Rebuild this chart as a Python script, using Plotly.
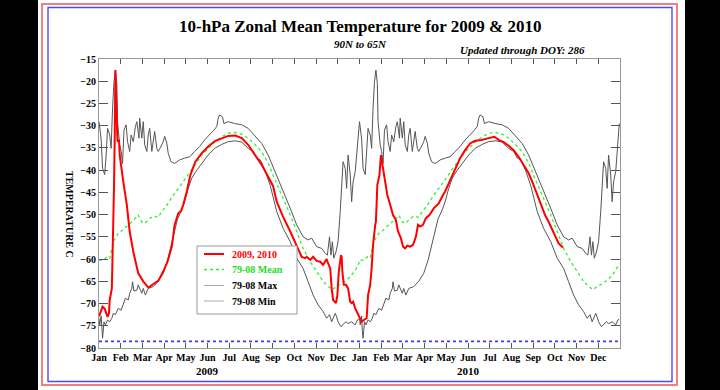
import plotly.graph_objects as go

# ---------------- data ----------------
# 2009-2010 daily series: day index from 1 Jan 2009
RED_DAY = [0, 5, 8, 12, 14, 15, 18, 20, 21, 22, 23, 25, 26, 28, 29, 34, 39, 43, 48, 55,
           62, 69, 76, 83, 90, 96, 102, 106, 111, 115, 118, 123, 128, 135, 144, 153, 163, 172, 181, 191,
           200, 209, 219, 228, 237, 244, 249, 258, 268, 277, 284, 289, 291, 296, 300, 305, 310, 314, 319, 321,
           324, 326, 328, 332, 334, 336, 339, 340, 341, 343, 346, 349, 352, 354, 356, 359, 362, 365, 368, 371,
           375, 377, 380, 382, 384, 387, 388, 390, 393, 395, 398, 401, 404, 408, 412, 416, 419, 423, 426, 429,
           432, 436, 440, 444, 447, 450, 454, 458, 463, 469, 476, 482, 485, 490, 494, 499, 506, 513, 520, 527,
           536, 546, 554, 560, 567, 574, 581, 588, 595, 602, 607, 613, 620, 625, 630, 634, 639, 644, 650]
RED_T = [-72.9, -70.7, -71.2, -73.0, -72.2, -69.2, -66.6, -55.3, -44.0, -32.8, -17.5, -29.1, -33.6, -33.2, -36.6, -42.6, -47.8, -53.8, -58.3, -63.2,
         -65.0, -66.4, -65.6, -64.9, -62.8, -60.6, -57.2, -52.3, -49.7, -49.2, -47.8, -44.8, -41.1, -38.1, -36.2, -34.7, -33.4, -32.8, -32.3, -32.2,
         -32.8, -34.3, -36.6, -38.8, -41.5, -43.6, -47.1, -50.5, -53.8, -57.2, -59.5, -59.8, -59.5, -60.2, -59.5, -60.4, -60.6, -61.3, -60.0, -61.0,
         -62.1, -66.6, -69.2, -69.9, -68.1, -62.8, -59.1, -59.5, -62.8, -65.8, -65.8, -66.6, -69.6, -69.9, -69.6, -71.1, -72.2, -73.3, -74.1, -73.7,
         -73.3, -68.1, -65.8, -62.1, -56.8, -52.3, -51.6, -43.3, -41.1, -36.6, -39.6, -42.6, -45.6, -47.8, -50.1, -51.2, -53.8, -55.3, -57.2, -57.6,
         -57.0, -57.2, -56.8, -55.0, -52.3, -52.7, -52.3, -50.8, -50.1, -48.6, -47.5, -45.6, -44.8, -43.0, -41.5, -39.6, -37.3, -35.5, -34.0, -33.4,
         -33.2, -32.8, -32.5, -33.2, -33.7, -34.5, -35.5, -37.0, -38.8, -40.7, -42.6, -45.2, -48.2, -50.1, -51.6, -53.1, -55.0, -56.5, -57.4]

# 1979-2008 climatology, day of year (0 = 1 Jan)
MEAN_DOY = [0, 6, 11, 15, 18, 21, 24, 28, 33, 39, 46, 53, 55, 60, 64, 69, 76, 83, 88, 95,
            104, 114, 125, 135, 144, 153, 163, 172, 181, 191, 200, 209, 219, 228, 237, 244, 249, 258, 268, 277,
            286, 296, 305, 314, 320, 327, 334, 340, 345, 352, 359, 364]
MEAN_T = [-60.2, -60.3, -59.5, -59.8, -57.5, -55.8, -55.0, -54.0, -53.5, -52.7, -51.6, -50.5, -50.1, -51.6, -52.0, -51.2, -50.3, -50.6, -49.3, -47.9,
          -45.6, -43.5, -41.0, -38.8, -36.6, -35.1, -33.6, -32.5, -31.7, -31.5, -31.9, -32.8, -34.3, -35.9, -38.4, -41.2, -43.0, -46.3, -50.1, -53.8,
          -57.6, -60.6, -62.8, -65.0, -66.0, -66.9, -66.0, -65.6, -65.0, -64.0, -62.5, -61.0]

MAX_DOY = [0, 3, 5, 8, 10, 12, 15, 17, 19, 21, 23, 25, 26, 29, 31, 33, 35, 38, 40, 43,
           45, 48, 51, 53, 56, 57, 60, 62, 64, 67, 69, 71, 74, 76, 78, 81, 83, 88, 90, 92,
           95, 97, 101, 106, 113, 120, 127, 134, 141, 148, 155, 161, 165, 167, 169, 173, 175, 181, 190, 200,
           209, 218, 228, 237, 242, 249, 258, 268, 277, 286, 293, 298, 305, 312, 317, 320, 323, 325, 327, 329,
           332, 335, 338, 340, 342, 345, 347, 349, 352, 354, 356, 359, 361, 363, 364]
MAX_T = [-29.1, -33.0, -39.6, -41.0, -36.6, -30.6, -32.1, -35.1, -26.1, -20.1, -17.5, -20.5, -29.1, -34.3, -35.8, -38.5, -31.0, -29.8, -33.6, -35.8,
         -32.1, -33.6, -30.2, -29.1, -32.8, -28.3, -32.8, -29.1, -34.3, -35.8, -32.1, -30.6, -35.8, -33.2, -31.3, -35.1, -35.8, -34.3, -33.6, -32.4,
         -33.9, -36.2, -38.1, -38.5, -37.7, -37.3, -37.0, -35.8, -34.7, -33.2, -32.1, -31.0, -30.2, -28.3, -27.6, -28.0, -29.5, -29.1, -29.5, -29.8,
         -30.6, -32.1, -34.0, -36.6, -38.5, -41.1, -44.8, -48.6, -52.3, -55.0, -55.7, -55.3, -57.2, -57.6, -58.7, -59.1, -55.0, -59.1, -56.1, -59.8,
         -58.4, -56.1, -49.3, -42.6, -38.1, -39.6, -44.1, -36.6, -41.1, -47.1, -42.6, -40.3, -35.8, -31.3, -29.5]

MIN_DOY = [0, 1, 3, 4, 5, 7, 9, 12, 15, 18, 20, 23, 27, 31, 34, 37, 41, 43, 46, 47,
           49, 53, 55, 60, 62, 65, 69, 76, 83, 90, 96, 103, 110, 116, 120, 125, 130, 137, 144, 153,
           162, 172, 181, 191, 200, 209, 216, 221, 226, 233, 240, 249, 258, 268, 277, 286, 293, 300, 307, 314,
           319, 323, 326, 331, 333, 335, 339, 342, 346, 349, 354, 359, 362, 364]
MIN_T = [-73.3, -74.8, -72.8, -76.3, -77.8, -74.1, -74.8, -73.7, -74.1, -73.3, -72.2, -72.5, -71.1, -71.5, -69.9, -68.8, -69.2, -67.7, -66.6, -65.1,
         -67.2, -67.0, -65.8, -67.7, -66.6, -68.1, -66.6, -66.2, -65.0, -63.2, -60.3, -55.5, -51.0, -48.9, -47.1, -44.1, -41.8, -40.0, -38.5, -36.6,
         -35.1, -34.2, -33.6, -33.4, -33.7, -35.1, -35.8, -37.3, -37.7, -40.2, -43.5, -49.3, -53.1, -56.1, -59.8, -62.1, -65.1, -68.1, -70.3, -71.8,
         -73.3, -72.5, -74.1, -72.2, -73.0, -74.1, -75.2, -74.8, -74.1, -74.5, -74.1, -74.8, -73.7, -73.5]

PSC_T = -78.5                    # horizontal dotted threshold line
YEARS = ["2009", "2010"]
MONTHS = ["Jan", "Feb", "Mar", "Apr", "May", "Jun", "Jul", "Aug", "Sep", "Oct", "Nov", "Dec"]
Y_TICKS = list(range(-80, -10, 5))
DAYS_PER_YEAR = 365
UPDATED_DOY = 286
LEGEND_LABELS = ["2009, 2010", "79-08 Mean", "79-08 Max", "79-08 Min"]

# ---------------- layout geometry ----------------
W, H = 720, 390
L, R, T, B = 99, 620, 59, 348
FONT = "Liberation Serif"
C_RED, C_GREEN, C_GRAY = "#ff0000", "#33ee33", "#555555"


def px(x):
    return (x - L) / (R - L)


def py(y):
    return (B - y) / (B - T)


def two_years(doy, vals):
    xs = list(doy) + [d + DAYS_PER_YEAR for d in doy]
    return xs, list(vals) + list(vals)


fig = go.Figure()

mx, my = two_years(MAX_DOY, MAX_T)
nx, ny = two_years(MIN_DOY, MIN_T)
ax, ay = two_years(MEAN_DOY, MEAN_T)

fig.add_trace(go.Scatter(x=[0, 2 * DAYS_PER_YEAR], y=[PSC_T, PSC_T], mode="lines",
                         line=dict(color="#3a3aff", width=1.6, dash="dot"), name="threshold"))
fig.add_trace(go.Scatter(x=mx, y=my, mode="lines", name=LEGEND_LABELS[2],
                         line=dict(color=C_GRAY, width=1)))
fig.add_trace(go.Scatter(x=nx, y=ny, mode="lines", name=LEGEND_LABELS[3],
                         line=dict(color=C_GRAY, width=1)))
fig.add_trace(go.Scatter(x=ax, y=ay, mode="lines", name=LEGEND_LABELS[1],
                         line=dict(color=C_GREEN, width=1.3, dash="dot")))
fig.add_trace(go.Scatter(x=RED_DAY, y=RED_T, mode="lines", name=LEGEND_LABELS[0],
                         line=dict(color=C_RED, width=2)))

month_vals = [i * DAYS_PER_YEAR / 12 for i in range(24)]
month_text = MONTHS + MONTHS

tickfont = dict(family=FONT, size=10, color="black", weight="bold")
fig.update_xaxes(range=[0, 2 * DAYS_PER_YEAR], tickmode="array", tickvals=month_vals, ticktext=month_text,
                 ticks="inside", ticklen=5, tickcolor="#555555", showline=True, linecolor="#999999",
                 linewidth=1, mirror="ticks", showgrid=False, zeroline=False, tickfont=tickfont)
fig.update_yaxes(range=[-80, -15], tickmode="array", tickvals=Y_TICKS,
                 ticks="inside", ticklen=9, tickcolor="#555555", showline=True, linecolor="#999999",
                 linewidth=1, mirror="ticks", showgrid=False, zeroline=False, tickfont=tickfont)

shapes = [
    dict(type="rect", xref="paper", yref="paper", x0=px(38), x1=px(685), y0=py(0), y1=py(390),
         fillcolor="white", line=dict(width=0), layer="below"),
    dict(type="rect", xref="paper", yref="paper", x0=px(42), x1=px(677), y0=py(4), y1=py(385),
         line=dict(color="#f08080", width=2), fillcolor="rgba(0,0,0,0)"),
    dict(type="rect", xref="paper", yref="paper", x0=px(48), x1=px(672), y0=py(7.5), y1=py(381.5),
         line=dict(color="#4a4aff", width=1.4), fillcolor="rgba(0,0,0,0)"),
    # legend box
    dict(type="rect", xref="paper", yref="paper", x0=px(197), x1=px(297), y0=py(246), y1=py(314),
         line=dict(color="#999999", width=1), fillcolor="white"),
]

annos = [
    dict(text="10-hPa Zonal Mean Temperature for 2009 &amp; 2010", x=px(360), y=py(26),
         font=dict(family=FONT, size=17, color="black", weight="bold")),
    dict(text="<i>90N to 65N</i>", x=px(360), y=py(44),
         font=dict(family=FONT, size=11, color="black", weight="bold")),
    dict(text=f"<i>Updated through DOY: {UPDATED_DOY}</i>", x=px(587), y=py(50), xanchor="right",
         font=dict(family=FONT, size=11, color="black", weight="bold")),
    dict(text="TEMPERATURE C", x=px(70), y=py(214), textangle=90,
         font=dict(family=FONT, size=10, color="black", weight="bold")),
]
for i, yr in enumerate(YEARS):
    annos.append(dict(text=yr, xref="x", x=month_vals[5 + 12 * i], y=py(371),
                      font=dict(family=FONT, size=11, color="black", weight="bold")))

# hand-drawn legend (entries closer together than Plotly's built-in legend allows)
leg_styles = [(C_RED, 2, "solid", "#ff0000"), (C_GREEN, 1.5, "dot", "#22dd22"),
              ("#aaaaaa", 1, "solid", "black"), ("#aaaaaa", 1, "solid", "black")]
leg_y = [254, 269.5, 285.5, 301]
for lab, (lc, lw, ld, tc), yy in zip(LEGEND_LABELS, leg_styles, leg_y):
    shapes.append(dict(type="line", xref="paper", yref="paper", x0=px(204), x1=px(224),
                       y0=py(yy), y1=py(yy), line=dict(color=lc, width=lw, dash=ld)))
    annos.append(dict(text=lab, x=px(230), y=py(yy), xanchor="left",
                      font=dict(family=FONT, size=10, color=tc, weight="bold")))

for a in annos:
    a.setdefault("xref", "paper")
    a.setdefault("yref", "paper")
    a.setdefault("xanchor", "center")
    a["yanchor"] = "middle"
    a["showarrow"] = False

fig.update_layout(
    width=W, height=H, margin=dict(l=L, r=W - R, t=T, b=H - B),
    paper_bgcolor="black", plot_bgcolor="white",
    shapes=shapes, annotations=annos,
    showlegend=False,
    hovermode=False,
)

fig.write_html("out.html", config={"displayModeBar": False, "staticPlot": True},
               post_script="document.body.style.margin='0px';")
